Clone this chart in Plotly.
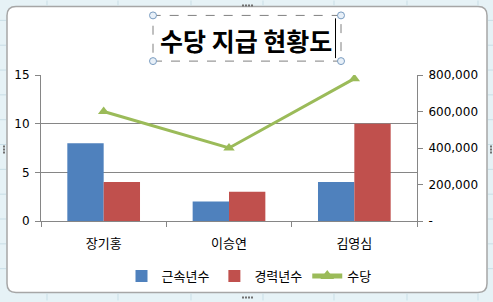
import plotly.graph_objects as go

categories = ["장기홍", "이승연", "김영심"]
years_service = [8, 2, 4]          # 근속년수
years_career = [4, 3, 10]          # 경력년수
allowance = [600000, 400000, 780000]  # 수당

left_ticks = [0, 5, 10, 15]
right_ticks = [0, 200000, 400000, 600000, 800000]
right_ticktext = ["-", "200,000", "400,000", "600,000", "800,000"]

W, H = 493, 302
L, R, T, B = 41, 417, 75, 222

def fx(px):
    return (px - L) / (R - L)

def fy(py):
    return 1 - (py - T) / (B - T)

FONT = "Noto Sans CJK KR"

fig = go.Figure()
fig.add_trace(go.Bar(x=categories, y=years_service, name="근속년수",
                     marker=dict(color="#4F81BD", line=dict(width=0))))
fig.add_trace(go.Bar(x=categories, y=years_career, name="경력년수",
                     marker=dict(color="#C0504D", line=dict(width=0))))
fig.add_trace(go.Scatter(x=categories, y=allowance, name="수당", yaxis="y2",
                         mode="lines+markers",
                         line=dict(color="#9BBB59", width=3),
                         marker=dict(symbol="triangle-up", size=10, color="#9BBB59")))

shapes = []
# chart area rounded rectangle
x0, y0, x1, y1, r = 7, 6, 487, 294, 9
path = (f"M {fx(x0+r)},{fy(y0)} L {fx(x1-r)},{fy(y0)} Q {fx(x1)},{fy(y0)} {fx(x1)},{fy(y0+r)} "
        f"L {fx(x1)},{fy(y1-r)} Q {fx(x1)},{fy(y1)} {fx(x1-r)},{fy(y1)} "
        f"L {fx(x0+r)},{fy(y1)} Q {fx(x0)},{fy(y1)} {fx(x0)},{fy(y1-r)} "
        f"L {fx(x0)},{fy(y0+r)} Q {fx(x0)},{fy(y0)} {fx(x0+r)},{fy(y0)} Z")
shapes.append(dict(type="path", xref="paper", yref="paper", path=path,
                   fillcolor="white", line=dict(color="#A6A6A6", width=1.5), layer="below"))
# spreadsheet grid hints in the border
for gx in [47, 118, 191, 263, 334, 407, 478]:
    shapes.append(dict(type="line", xref="paper", yref="paper", x0=fx(gx), x1=fx(gx),
                       y0=fy(0), y1=fy(5), line=dict(color="#C9DEE6", width=1), layer="below"))
    shapes.append(dict(type="line", xref="paper", yref="paper", x0=fx(gx), x1=fx(gx),
                       y0=fy(295), y1=fy(302), line=dict(color="#C9DEE6", width=1), layer="below"))
for gy in [20, 45, 70, 95, 120, 145, 170, 195, 220, 245, 270]:
    for (a, b) in [(0, 6), (488, 493)]:
        shapes.append(dict(type="line", xref="paper", yref="paper", x0=fx(a), x1=fx(b),
                           y0=fy(gy), y1=fy(gy), line=dict(color="#C9DEE6", width=1), layer="below"))
# title selection box
shapes.append(dict(type="rect", xref="paper", yref="paper", x0=fx(153), x1=fx(341),
                   y0=fy(61), y1=fy(15), line=dict(color="#808080", width=1, dash="dash")))
for (cx, cy) in [(153, 15), (341, 15), (153, 61), (341, 61)]:
    shapes.append(dict(type="circle", xref="paper", yref="paper",
                       x0=fx(cx-3.5), x1=fx(cx+3.5), y0=fy(cy+3.5), y1=fy(cy-3.5),
                       fillcolor="#E8F0F8", line=dict(color="#7A9CC0", width=1)))
# text cursor
shapes.append(dict(type="line", xref="paper", yref="paper", x0=fx(335.5), x1=fx(335.5),
                   y0=fy(58), y1=fy(18), line=dict(color="black", width=1)))
# handle dots
for (hx, hy) in [(242, 4), (245, 4), (248, 4), (251, 4), (242, 298), (245, 298), (248, 298), (251, 298),
                 (3, 146), (3, 149), (3, 152), (490, 146), (490, 149), (490, 152)]:
    shapes.append(dict(type="rect", xref="paper", yref="paper", x0=fx(hx), x1=fx(hx+2),
                       y0=fy(hy+2), y1=fy(hy), fillcolor="#707070", line=dict(width=0)))

fig.update_layout(
    width=W, height=H,
    margin=dict(l=L, r=W - R, t=T, b=H - B, pad=0),
    paper_bgcolor="#E6F2F6",
    plot_bgcolor="rgba(0,0,0,0)",
    font=dict(family=FONT, size=12, color="black"),
    barmode="group", bargap=0.42, bargroupgap=0,
    showlegend=True,
    legend=dict(orientation="h", x=fx(249), xanchor="center", y=fy(276), yanchor="middle",
                font=dict(family=FONT, size=13), bgcolor="rgba(0,0,0,0)",
                itemsizing="constant", tracegroupgap=0),
    xaxis=dict(showline=True, linecolor="#868686", linewidth=1, ticks="outside",
               tickson="boundaries", ticklen=5, tickcolor="#868686",
               tickfont=dict(family=FONT, size=13), showgrid=False, zeroline=False,
               ticklabelstandoff=10),
    yaxis=dict(range=[0, 15], tickvals=left_ticks, showgrid=True, gridcolor="#868686",
               gridwidth=1, showline=True, linecolor="#868686", ticks="outside", ticklen=5,
               tickcolor="#868686", zeroline=False, tickfont=dict(family="DejaVu Sans", size=12),
               ticklabelstandoff=3),
    yaxis2=dict(range=[0, 800000], overlaying="y", side="right", tickvals=right_ticks,
                ticktext=right_ticktext, showgrid=False, showline=True, linecolor="#868686",
                ticks="outside", ticklen=5, tickcolor="#868686", zeroline=False,
                tickfont=dict(family="DejaVu Sans", size=12), ticklabelstandoff=3),
    shapes=shapes,
    annotations=[dict(text="<b>수당 지급 현황도</b>", xref="paper", yref="paper",
                      x=fx(246), y=fy(40), xanchor="center", yanchor="middle",
                      showarrow=False, font=dict(family=FONT, size=25, color="black"))],
)

fig.write_html("out.html")
